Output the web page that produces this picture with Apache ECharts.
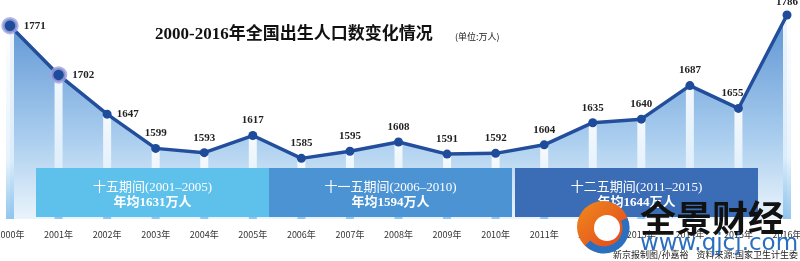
<!DOCTYPE html>
<html><head><meta charset="utf-8">
<script src="https://cdn.jsdelivr.net/npm/echarts@6/dist/echarts.min.js"></script>
<style>html,body{margin:0;padding:0;background:#fff}#c{width:800px;height:261px}</style>
</head><body><div id="c"></div>
<script>
const years = ['2000年','2001年','2002年','2003年','2004年','2005年','2006年','2007年','2008年','2009年','2010年','2011年','2012年','2013年','2014年','2015年','2016年'];
const births = [1771,1702,1647,1599,1593,1617,1585,1595,1608,1591,1592,1604,1635,1640,1687,1655,1786];
const labelPos = ['right','right','right','top','top','top','top','top','top','top','top','top','top','top','top','top','top'];
const periods = [
  {name:'十五期间(2001–2005)', avg:'年均1631万人', x0:36, x1:269, color:'#5ec1ec'},
  {name:'十一五期间(2006–2010)', avg:'年均1594万人', x0:269, x1:512, color:'#4b93d3'},
  {name:'十二五期间(2011–2015)', avg:'年均1644万人', x0:515, x1:758, color:'#3b6db7'}
];
const title = '2000-2016年全国出生人口数变化情况';
const unit = '(单位:万人)';
const credit = '新京报制图/孙嘉裕    资料来源:国家卫生计生委';

const chart = echarts.init(document.getElementById('c'), null, {renderer:'canvas'});
const serif = '"Liberation Serif","DejaVu Serif","Noto Sans CJK SC",serif';
const lineData = births.map((v,i)=>{
  const d = {value:v, label:{position:labelPos[i]}};
  if(i<2){ d.symbolSize = 14; d.itemStyle = {color:'#1f4b9b', borderColor:'rgba(160,165,225,0.8)', borderWidth:3.5}; }
  if(i===15){ d.label.offset=[-6,0]; }
  if(i===16){ d.label.distance=3; }
  return d;
});
const graphics = [];
periods.forEach(p=>{
  graphics.push({type:'rect', shape:{x:p.x0,y:168,width:p.x1-p.x0,height:49}, style:{fill:p.color}, z:10});
  graphics.push({type:'text', x:(p.x0+p.x1)/2, y:188, style:{text:p.name, fill:'#fff', font:'13px '+serif, textAlign:'center', textVerticalAlign:'middle'}, z:11});
  graphics.push({type:'text', x:(p.x0+p.x1)/2, y:203, style:{text:p.avg, fill:'#fff', font:'bold 13px '+serif, textAlign:'center', textVerticalAlign:'middle'}, z:11});
});
graphics.push({type:'text', x:155, y:35, style:{text:title, fill:'#111', font:'bold 17px '+serif, textVerticalAlign:'middle'}, z:11});
graphics.push({type:'text', x:455, y:37, style:{text:unit, fill:'#222', font:'9px "Noto Sans CJK SC",sans-serif', textVerticalAlign:'middle'}, z:11});
graphics.push({type:'text', x:798, y:255, style:{text:credit, fill:'#222', font:'9px "Noto Sans CJK SC",sans-serif', textAlign:'right', textVerticalAlign:'middle'}, z:11});
// watermark
graphics.push({type:'circle', shape:{cx:603,cy:227,r:26}, style:{fill:new echarts.graphic.LinearGradient(0,0,1,1,[{offset:0,color:'#f08a1c'},{offset:1,color:'#e0401e'}])}, z:12});
graphics.push({type:'circle', shape:{cx:607,cy:228,r:13}, style:{fill:'#fff'}, z:12});
graphics.push({type:'arc', shape:{cx:604,cy:228,r:22,startAngle:-0.4,endAngle:2.4}, style:{stroke:'#2a6fc0',lineWidth:7,fill:null}, z:13});
graphics.push({type:'text', x:640, y:218, style:{text:'全景财经', fill:'#111', font:'bold 36px "Noto Sans CJK SC",sans-serif', textVerticalAlign:'middle'}, z:12});
graphics.push({type:'text', x:640, y:244, style:{text:'www.qjcj.com', fill:'#2a6fbf', font:'23px "DejaVu Sans",sans-serif', textVerticalAlign:'middle'}, z:12});

chart.setOption({
  animation:false,
  grid:{left:10,right:13,top:5,bottom:42, outerBoundsMode:'none', containLabel:false},
  xAxis:{type:'category', data:years, boundaryGap:false,
    axisLine:{show:false}, axisTick:{show:false}, splitLine:{show:false},
    axisLabel:{margin:11, fontSize:9, color:'#333', fontFamily:'"Noto Sans CJK SC",sans-serif', showMinLabel:true, showMaxLabel:true, interval:0, hideOverlap:false}},
  yAxis:{type:'value', min:1500, max:1800, show:false},
  series:[
    {type:'line', data:births, symbol:'none', lineStyle:{width:0}, silent:true, z:1,
      areaStyle:{opacity:1, color:new echarts.graphic.LinearGradient(0,0,0,1,[{offset:0,color:'#5d94d3'},{offset:0.6,color:'#a9cdee'},{offset:1,color:'#eaf4fc'}])}},
    {type:'bar', data:births, barWidth:8, silent:true, z:2,
      itemStyle:{color:new echarts.graphic.LinearGradient(0,0,0,1,[{offset:0,color:'rgba(255,255,255,0.9)'},{offset:0.7,color:'rgba(225,240,252,0.85)'},{offset:1,color:'rgba(120,185,232,0.8)'}])}},
    {type:'line', data:lineData, z:3, symbol:'circle', symbolSize:9,
      lineStyle:{width:3.5, color:'#234e9c'}, itemStyle:{color:'#1f4b9b'},
      label:{show:true, fontSize:11, fontWeight:'bold', color:'#222', fontFamily:serif, distance:5}}
  ],
  graphic:graphics
});
</script></body></html>
